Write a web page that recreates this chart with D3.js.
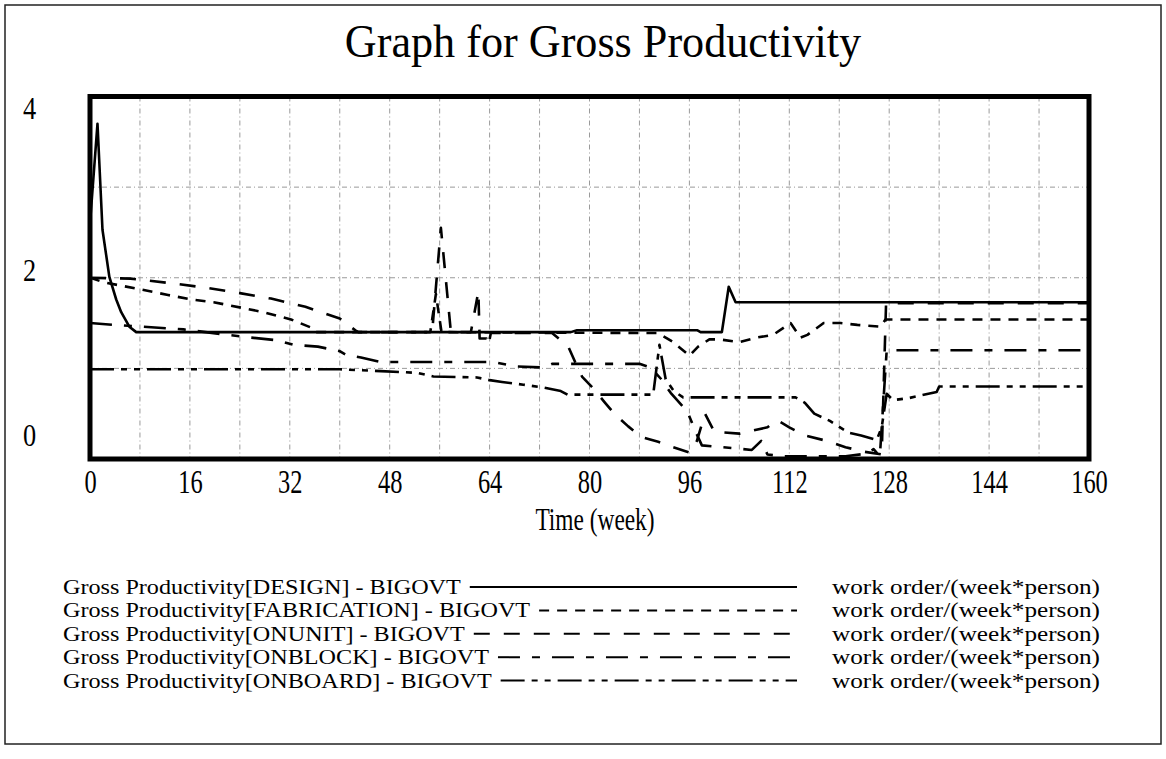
<!DOCTYPE html>
<html>
<head>
<meta charset="utf-8">
<script src="https://cdn.jsdelivr.net/npm/d3@7"></script>
<style>
  body { margin: 0; background: #fff; }
  text { font-family: "Liberation Serif", "Times New Roman", Times, serif; fill: #000; }
</style>
</head>
<body>
<svg id="chart" width="1166" height="759"></svg>
<script>
// Axis ticks
const weekTicks = [0, 16, 32, 48, 64, 80, 96, 112, 128, 144, 160];
const valueTicks = [0, 2, 4];
const weekGrid = d3.range(8, 160, 8);
const valueGrid = [1, 2, 3];

const chartTitle = "Graph for Gross Productivity";
const xTitle = "Time (week)";
const unitsLabel = "work order/(week*person)";
const runName = "BIGOVT";
const sectors = ["DESIGN", "FABRICATION", "ONUNIT", "ONBLOCK", "ONBOARD"];

// Gross productivity by sector, [week, work order/(week*person)]
const design = [
  [0, 2.6], [1.2, 3.70], [2.0, 2.53], [3.1, 2.01], [4.2, 1.76], [5.0, 1.62],
  [6.3, 1.46], [7.4, 1.40], [77, 1.40], [78, 1.42], [97.3, 1.42], [97.8, 1.40],
  [101.2, 1.40], [102.3, 1.90], [103.4, 1.73], [160, 1.73]
];
const fabrication = [
  [0, 2.00], [2.2, 1.95], [8.2, 1.87], [12.5, 1.81], [16.2, 1.76], [19.8, 1.73],
  [24.2, 1.67], [27.8, 1.62], [32.2, 1.54], [35.4, 1.45], [36.2, 1.40],
  [54.5, 1.40], [55.4, 1.82], [56.3, 1.40], [91, 1.39], [93.4, 1.29], [96, 1.14],
  [97.4, 1.24], [99.2, 1.32], [100.8, 1.32], [104, 1.29], [106.8, 1.34],
  [109.4, 1.37], [112.2, 1.50], [113.8, 1.34], [114.9, 1.37], [117.5, 1.50],
  [120.2, 1.50], [122.9, 1.48], [126.6, 1.46], [127.4, 1.54], [160, 1.54]
];
const onunit = [
  [0, 2.00], [6.5, 1.99], [13, 1.94], [18.5, 1.89], [24, 1.83], [29, 1.77],
  [34.5, 1.68], [40, 1.55], [42.5, 1.42], [43, 1.40], [54.8, 1.40], [56.2, 2.55],
  [57.8, 1.40], [61, 1.40], [62.2, 1.85], [62.4, 1.33], [63.5, 1.33], [63.8, 1.25],
  [64.2, 1.39], [74, 1.39], [76.6, 1.24], [77.7, 1.07], [78.8, 0.91], [80.6, 0.78],
  [82.5, 0.62], [84.1, 0.49], [86.2, 0.36], [88.4, 0.24], [91, 0.19], [93.4, 0.13],
  [96.1, 0.07], [97.2, 0.20], [98.5, 0.50], [100, 0.30], [104, 0.28], [108.5, 0.35],
  [110, 0.43], [112, 0.35], [114.5, 0.26], [118, 0.20], [121, 0.13], [124, 0.08],
  [126.8, 0.05], [127.5, 1.72], [160, 1.72]
];
const onblock = [
  [0, 1.50], [3.8, 1.48], [8.6, 1.46], [15, 1.43], [22, 1.37], [25.8, 1.34],
  [30, 1.31], [32.6, 1.26], [36.5, 1.24], [40, 1.19], [41, 1.15], [43.4, 1.12],
  [46.6, 1.07], [64.5, 1.07], [68.5, 1.02], [72.6, 1.01], [74, 1.05], [88, 1.05],
  [89.8, 1.01], [91.5, 0.88], [93, 0.73], [95.7, 0.52], [97, 0.30], [98, 0.15],
  [103, 0.12], [106, 0.10], [107.5, 0.20], [108.5, 0.05], [111, 0.03], [121, 0.03],
  [124.5, 0.06], [125.5, 0.11], [126.5, 0.03], [127.6, 1.20], [160, 1.20]
];
const onboard = [
  [0, 0.99], [40, 0.99], [46.6, 0.97], [52.5, 0.95], [55, 0.91], [62, 0.90],
  [64, 0.87], [66, 0.85], [69.4, 0.82], [72.5, 0.79], [75.4, 0.75], [76.5, 0.71],
  [90.2, 0.71], [91.2, 1.26], [92.2, 0.88], [93.5, 0.75], [95, 0.68], [113, 0.68],
  [114.5, 0.62], [116, 0.50], [118.5, 0.42], [121.5, 0.29], [123.5, 0.26],
  [126, 0.21], [126.8, 0.35], [127.6, 0.72], [128.6, 0.65], [131, 0.67],
  [133, 0.70], [135.6, 0.74], [136, 0.80], [160, 0.80]
];

const seriesData = [design, fabrication, onunit, onblock, onboard];
const dashes = ["none", "10,8", "16,14", "22,12,8,12", "24,7,6,7,6,7"];

const FONT = "Liberation Serif, Times New Roman, serif";
const svg = d3.select("#chart");
const plot = { left: 90, right: 1089, top: 96.5, bottom: 459 };

const x = d3.scaleLinear().domain([0, 160]).range([plot.left, plot.right]);
const y = d3.scaleLinear().domain([0, 4]).range([plot.bottom, plot.top]);

// Rescale a text element horizontally to a share of its natural width
function condense(sel, factor) {
  sel.each(function () {
    const w = this.getComputedTextLength();
    d3.select(this).attr("textLength", w * factor).attr("lengthAdjust", "spacingAndGlyphs");
  });
}

// Outer frame
svg.append("rect")
  .attr("x", 5).attr("y", 5).attr("width", 1156).attr("height", 739)
  .attr("fill", "none").attr("stroke", "#222").attr("stroke-width", 1.5);

// Title
svg.append("text")
  .attr("x", 603).attr("y", 57)
  .attr("text-anchor", "middle")
  .attr("font-family", FONT)
  .style("font-size", "46px")
  .text(chartTitle)
  .call(condense, 0.96);

// Grid
const grid = svg.append("g")
  .attr("stroke", "#9a9a9a").attr("stroke-width", 1).attr("stroke-dasharray", "5,3,1,3");
grid.selectAll("line.v").data(weekGrid).join("line")
  .attr("class", "v")
  .attr("x1", d => x(d)).attr("x2", d => x(d))
  .attr("y1", plot.top).attr("y2", plot.bottom);
grid.selectAll("line.h").data(valueGrid).join("line")
  .attr("class", "h")
  .attr("x1", plot.left).attr("x2", plot.right)
  .attr("y1", d => y(d)).attr("y2", d => y(d));

// Series lines
const line = d3.line().x(d => x(d[0])).y(d => y(d[1]));
svg.append("defs").append("clipPath").attr("id", "plotClip")
  .append("rect")
  .attr("x", plot.left).attr("y", plot.top - 2)
  .attr("width", plot.right - plot.left).attr("height", plot.bottom - plot.top + 2);

svg.append("g").attr("clip-path", "url(#plotClip)")
  .selectAll("path").data(seriesData).join("path")
  .attr("d", line)
  .attr("fill", "none")
  .attr("stroke", "#000")
  .attr("stroke-width", 2.6)
  .attr("stroke-linejoin", "round")
  .attr("stroke-dasharray", (d, i) => dashes[i]);

// Plot frame
svg.append("rect")
  .attr("x", plot.left).attr("y", plot.top)
  .attr("width", plot.right - plot.left).attr("height", plot.bottom - plot.top)
  .attr("fill", "none").attr("stroke", "#000").attr("stroke-width", 5);

// X axis labels
const xAxis = svg.append("g")
  .attr("transform", `translate(0,${plot.bottom})`)
  .call(d3.axisBottom(x).tickValues(weekTicks).tickSize(0).tickPadding(11).tickFormat(d3.format("d")));
xAxis.select(".domain").remove();
xAxis.selectAll("text")
  .attr("font-family", FONT).attr("fill", "#000")
  .style("font-size", "33px")
  .call(condense, 0.74);

// Y axis labels
const yAxis = svg.append("g")
  .attr("transform", `translate(${plot.left},0)`)
  .call(d3.axisLeft(y).tickValues(valueTicks).tickSize(0).tickPadding(67).tickFormat(d3.format("d")));
yAxis.select(".domain").remove();
yAxis.selectAll("text")
  .attr("font-family", FONT).attr("fill", "#000")
  .attr("text-anchor", "start")
  .attr("dy", d => d === 4 ? "0.72em" : d === 0 ? "-0.42em" : "0.1em")
  .style("font-size", "31px")
  .call(condense, 0.85);

// X axis title
svg.append("text")
  .attr("x", 595).attr("y", 530)
  .attr("text-anchor", "middle")
  .attr("font-family", FONT)
  .style("font-size", "32px")
  .text(xTitle)
  .call(condense, 0.73);

// Legend
const legend = svg.append("g");
sectors.forEach((s, i) => {
  const by = 594 + i * 23.4;
  const t = legend.append("text")
    .attr("x", 63).attr("y", by)
    .attr("font-family", FONT)
    .style("font-size", "21px")
    .text(`Gross Productivity[${s}] - ${runName}`)
    .call(condense, 1.15);
  const end = 63 + (+t.attr("textLength"));
  legend.append("line")
    .attr("x1", end + 9).attr("x2", 797)
    .attr("y1", by - 7).attr("y2", by - 7)
    .attr("stroke", "#000").attr("stroke-width", 2)
    .attr("stroke-dasharray", dashes[i]);
  legend.append("text")
    .attr("x", 832).attr("y", by)
    .attr("font-family", FONT)
    .style("font-size", "21px")
    .text(unitsLabel)
    .call(condense, 1.2);
});
</script>
</body>
</html>
